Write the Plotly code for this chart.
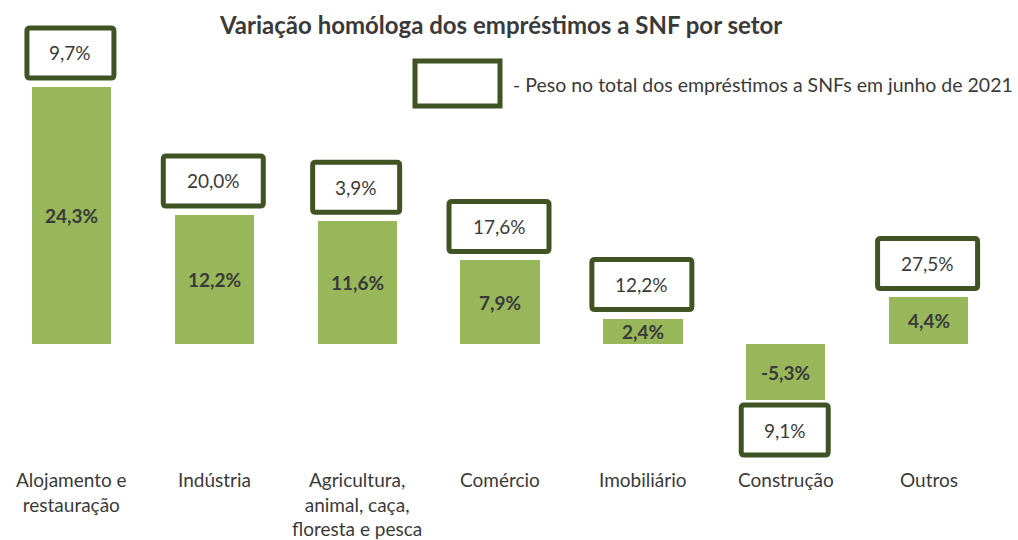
import plotly.graph_objects as go

# ---- data ----
categories = ["Alojamento e<br>restauração", "Indústria", "Agricultura,<br>animal, caça,<br>floresta e pesca",
              "Comércio", "Imobiliário", "Construção", "Outros"]
growth = [24.3, 12.2, 11.6, 7.9, 2.4, -5.3, 4.4]          # variação homóloga (%)
weight = [9.7, 20.0, 3.9, 17.6, 12.2, 9.1, 27.5]          # peso no total (%)
title_text = "Variação homóloga dos empréstimos a SNF por setor"
legend_text = "- Peso no total dos empréstimos a SNFs em junho de 2021"

def pt(v):
    return f"{v:.1f}".replace(".", ",") + "%"

# ---- layout constants ----
W, H = 1018, 540
PX_X = 142.86          # pixels per category
PX_Y = 10.58           # pixels per percentage point
BASE = 344             # baseline pixel row
BAR_C = "#97b75a"
BOX_C = "#3f5323"
TXT_C = "#3a3a3a"
FONT = "Lato"

y_top = BASE / PX_Y
y_bot = -(H - BASE) / PX_Y
x_lo = -0.5
x_hi = x_lo + W / PX_X

xs = list(range(len(categories)))

fig = go.Figure()
fig.add_trace(go.Bar(x=xs, y=growth, marker=dict(color=BAR_C, line=dict(width=0)),
                     width=0.555, hoverinfo="skip"))

def rrect(x0, x1, y0, y1, r_px=3):
    rx, ry = r_px / PX_X, r_px / PX_Y
    return (f"M {x0+rx},{y0} L {x1-rx},{y0} Q {x1},{y0} {x1},{y0+ry} "
            f"L {x1},{y1-ry} Q {x1},{y1} {x1-rx},{y1} L {x0+rx},{y1} "
            f"Q {x0},{y1} {x0},{y1-ry} L {x0},{y0+ry} Q {x0},{y0} {x0+rx},{y0} Z")

shapes = []
annotations = []
GAP, BH = 9, 50
for i, (g, w) in enumerate(zip(growth, weight)):
    lab = pt(w)
    bw = (87 if len(lab) <= 4 else 100) / PX_X
    cx = i - 1 / PX_X
    if g >= 0:
        yb0 = g + GAP / PX_Y
        yb1 = yb0 + BH / PX_Y
    else:
        yb1 = g - 5 / PX_Y
        yb0 = yb1 - BH / PX_Y
    shapes.append(dict(type="path", xref="x", yref="y",
                       path=rrect(cx - bw / 2, cx + bw / 2, yb0, yb1),
                       line=dict(color=BOX_C, width=5), fillcolor="white"))
    annotations.append(dict(x=cx, y=(yb0 + yb1) / 2, xref="x", yref="y", text=lab,
                            yanchor="middle", showarrow=False,
                            font=dict(family=FONT, size=19, color=TXT_C)))
    annotations.append(dict(x=i, y=g / 2, xref="x", yref="y", text=f"<b>{pt(g)}</b>",
                            yanchor="middle", showarrow=False,
                            font=dict(family=FONT, size=19, color=TXT_C)))
    annotations.append(dict(x=i, y=1 - 466 / H, xref="x", yref="paper", text=categories[i],
                            yanchor="top", showarrow=False,
                            font=dict(family=FONT, size=19, color=TXT_C)))

# legend box
shapes.append(dict(type="rect", xref="paper", yref="paper",
                   x0=415 / W, x1=500 / W, y0=1 - 106 / H, y1=1 - 61 / H,
                   line=dict(color=BOX_C, width=5), fillcolor="white"))
annotations.append(dict(x=511 / W, y=1 - 84 / H, xref="paper", yref="paper", text=legend_text,
                        xanchor="left", yanchor="middle", showarrow=False,
                        font=dict(family=FONT, size=19.5, color=TXT_C)))
annotations.append(dict(x=500 / W, y=1 - 25 / H, xref="paper", yref="paper",
                        text=f"<b>{title_text}</b>", xanchor="center", yanchor="middle",
                        showarrow=False, font=dict(family=FONT, size=24, color=TXT_C)))

fig.update_layout(
    width=W, height=H, margin=dict(l=0, r=0, t=0, b=0),
    plot_bgcolor="white", paper_bgcolor="white", showlegend=False,
    xaxis=dict(range=[x_lo, x_hi], visible=False, fixedrange=True),
    yaxis=dict(range=[y_bot, y_top], visible=False, fixedrange=True),
    shapes=shapes, annotations=annotations, bargap=0,
)
fig.write_html("out.html", config={"displayModeBar": False},
               post_script="document.body.style.margin='0px';")
